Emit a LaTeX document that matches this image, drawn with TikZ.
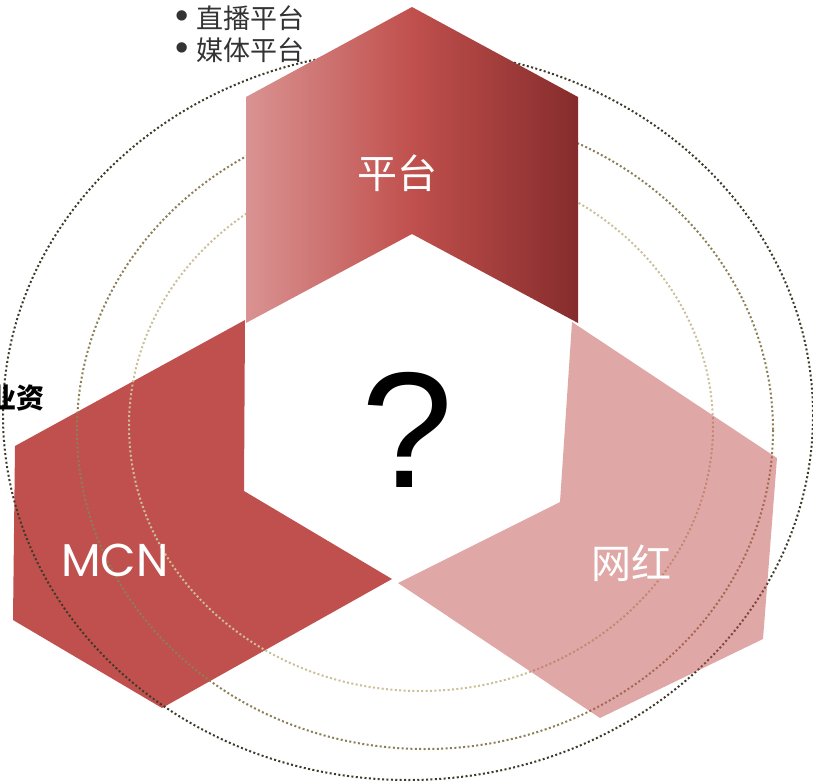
\documentclass[tikz,border=0pt]{standalone}
\usepackage{fontspec}
\setmainfont{Liberation Sans}
\newfontfamily\cjk{Noto Sans CJK SC}
\newfontfamily\geo{Poppins}
\definecolor{hexred}{HTML}{C0504D}
\definecolor{hexlight}{HTML}{D99392}
\definecolor{hexdark}{HTML}{862C2C}
\definecolor{ringA}{HTML}{3E3A2A}
\definecolor{ringB}{HTML}{8C7F55}
\definecolor{ringC}{HTML}{CBBF97}
\definecolor{listgray}{HTML}{333333}
\tikzset{ring/.style={line width=2pt,dash pattern=on 2pt off 2.4pt},
  hextext/.style={text=white,inner sep=0pt},
  listline/.style={anchor=west,inner sep=0pt,text=listgray,font=\cjk\fontsize{27}{27}\selectfont}}

\begin{document}
\begin{tikzpicture}[x=1pt,y=-1pt]
\useasboundingbox (0,0) rectangle (813,783);
\clip (0,0) rectangle (813,783);
\coordinate (A) at (412,234);\coordinate (B) at (578,323);\coordinate (C) at (560,502);
\coordinate (D) at (395,581);\coordinate (E) at (244,491);\coordinate (F) at (245,320);
\fill[hexred] (F)--(15,446)--(13,620)--(162,708)--(392,579)--(E)--cycle;
\foreach\c/\cx/\cy/\rx/\ry in {ringA/408/415/405/365,ringB/425/430/348/319,ringC/421/426/292/265}
\draw[ring,\c] (\cx,\cy) ellipse [x radius=\rx,y radius=\ry];
\fill[hexred,fill opacity=0.5] (572,322)--(777,458)--(763,639)--(600,718)--(398,583)--(C)--cycle;
\shade[left color=hexlight,right color=hexdark,middle color=hexred] (246,323)--(246,97)--(412,7)--(578,97)--(B)--(A)--cycle;
\node[hextext] (pt) at (397,173) {\cjk\fontsize{40}{40}\selectfont 平台};
\node[hextext] (mcn) at (115,560) {\geo\fontsize{46}{46}\selectfont MCN};
\node[hextext] (wh) at (631,563) {\cjk\fontsize{40}{40}\selectfont 网红};
\node[inner sep=0pt] (q) at (407,430) {\fontsize{165}{165}\selectfont ?};
\foreach\y/\t [count=\i] in {18/直播平台,50/媒体平台}
\node[listline] (item\i) at (175,\y) {\smash{\normalfont\fontsize{38}{28}\selectfont\textbullet}\hspace{8pt}\t};
\node[anchor=east,inner sep=0pt] (zy) at (45,398) {\cjk\bfseries\fontsize{28}{28}\selectfont 业资};
\end{tikzpicture}
\end{document}
